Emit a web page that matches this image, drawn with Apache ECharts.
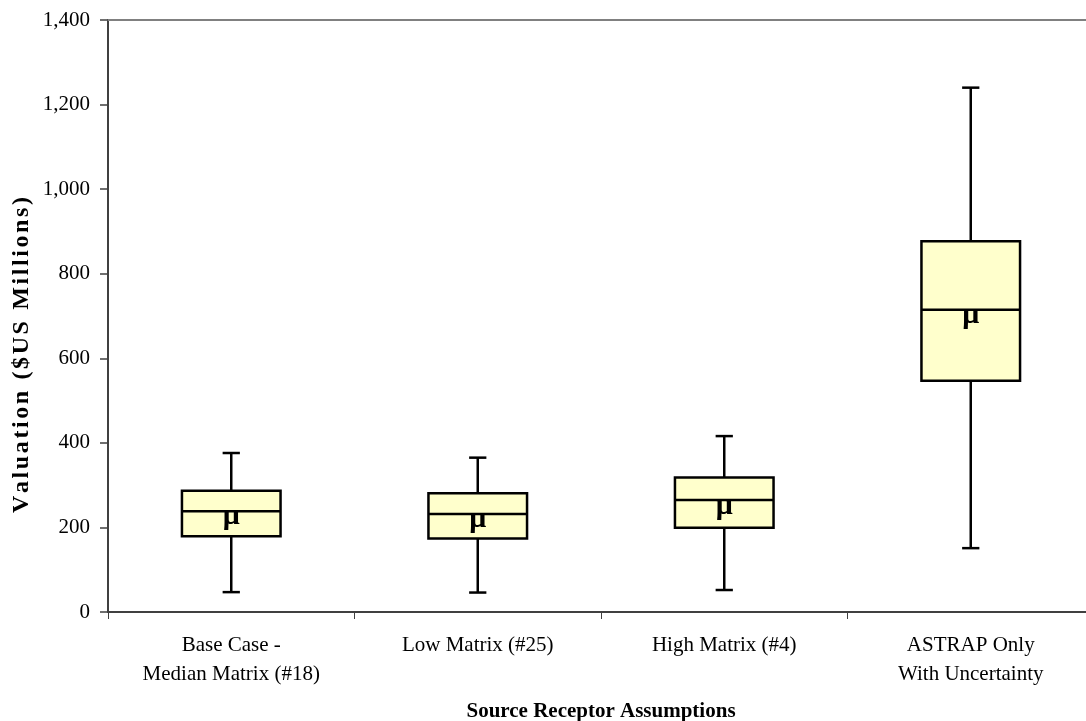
<!DOCTYPE html>
<html>
<head>
<meta charset="utf-8">
<title>Valuation by Source Receptor Assumption</title>
<script src="https://cdn.jsdelivr.net/npm/echarts@6/dist/echarts.min.js"></script>
<style>
  html, body { margin: 0; padding: 0; background: #ffffff; }
  #chart { width: 1086px; height: 721px; }
</style>
</head>
<body>
<div id="chart"></div>
<script>
// Box-and-whisker summary per source-receptor assumption ($US millions)
const categories = [
  'Base Case -\nMedian Matrix (#18)',
  'Low Matrix (#25)',
  'High Matrix (#4)',
  'ASTRAP Only\nWith Uncertainty'
];
const minValues    = [47, 46, 52, 151];
const q1Values     = [179, 174, 199, 547];
const medianValues = [238, 232, 265, 715];
const q3Values     = [287, 281, 318, 877];
const maxValues    = [376, 365, 416, 1240];
const meanValues   = [226, 219, 251, 701];
const yTicks = { min: 0, max: 1400, interval: 200 };

const FONT = '"Liberation Serif", "Times New Roman", serif';

const boxData = categories.map((c, i) => [
  i, minValues[i], q1Values[i], medianValues[i], q3Values[i], maxValues[i], meanValues[i]
]);

function renderBox(params, api) {
  const idx = api.value(0);
  const x = api.coord([idx, 0])[0];
  const band = api.size([1, 0])[0];
  const boxW = band * 0.4;
  const capW = band * 0.07;
  const yMin = api.coord([idx, api.value(1)])[1];
  const yQ1 = api.coord([idx, api.value(2)])[1];
  const yMed = api.coord([idx, api.value(3)])[1];
  const yQ3 = api.coord([idx, api.value(4)])[1];
  const yMax = api.coord([idx, api.value(5)])[1];
  const yMean = api.coord([idx, api.value(6)])[1];
  const line = { stroke: '#000000', lineWidth: 2.5 };
  return {
    type: 'group',
    children: [
      { type: 'line', shape: { x1: x, y1: yMax, x2: x, y2: yQ3 }, style: line },
      { type: 'line', shape: { x1: x - capW / 2, y1: yMax, x2: x + capW / 2, y2: yMax }, style: line },
      { type: 'line', shape: { x1: x, y1: yQ1, x2: x, y2: yMin }, style: line },
      { type: 'line', shape: { x1: x - capW / 2, y1: yMin, x2: x + capW / 2, y2: yMin }, style: line },
      {
        type: 'rect',
        shape: { x: x - boxW / 2, y: yQ3, width: boxW, height: yQ1 - yQ3 },
        style: { fill: '#FFFFCC', stroke: '#000000', lineWidth: 2.5 }
      },
      { type: 'line', shape: { x1: x - boxW / 2, y1: yMed, x2: x + boxW / 2, y2: yMed }, style: line },
      {
        type: 'text',
        style: {
          text: 'μ', x: x, y: yMean,
          align: 'center', verticalAlign: 'middle',
          font: 'bold 30px ' + FONT, fill: '#000000'
        }
      }
    ]
  };
}

// Vertical axis title, letters spread evenly along a fixed length
function spacedVerticalTitle(text, font, cx, cy, length) {
  const ctx = document.createElement('canvas').getContext('2d');
  ctx.font = font;
  const chars = Array.from(text);
  const widths = chars.map(ch => ctx.measureText(ch).width);
  const total = widths.reduce((a, b) => a + b, 0);
  const gap = Math.max(0, (length - total) / (chars.length - 1));
  let pos = -(total + gap * (chars.length - 1)) / 2;
  const children = chars.map((ch, i) => {
    const el = {
      type: 'text', x: pos, y: 0,
      style: { text: ch, font: font, fill: '#000', align: 'left', verticalAlign: 'middle' }
    };
    pos += widths[i] + gap;
    return el;
  });
  return { type: 'group', x: cx, y: cy, rotation: Math.PI / 2, children: children };
}

const chart = echarts.init(document.getElementById('chart'), null, { renderer: 'canvas' });
chart.setOption({
  backgroundColor: '#ffffff',
  animation: false,
  grid: {
    left: 108, top: 20, right: -8, bottom: 109,
    outerBoundsMode: 'none',
    containLabel: false,
    show: false
  },
  xAxis: [{
    type: 'category',
    data: categories,
    name: 'Source Receptor Assumptions',
    nameLocation: 'middle',
    nameGap: 89,
    nameTextStyle: { fontFamily: FONT, fontSize: 21, fontWeight: 'bold', color: '#000' },
    axisLine: { lineStyle: { color: '#404040', width: 2 } },
    axisTick: { show: true, length: 7, interval: 0, lineStyle: { color: '#404040', width: 1 } },
    axisLabel: {
      interval: 0, margin: 19, fontFamily: FONT, fontSize: 21, color: '#000', lineHeight: 29
    },
    splitLine: { show: false }
  }, {
    // top frame edge of the plot area
    type: 'category',
    data: categories,
    position: 'top',
    axisLine: { lineStyle: { color: '#808080', width: 2 } },
    axisTick: { show: false },
    axisLabel: { show: false },
    splitLine: { show: false }
  }],
  yAxis: {
    type: 'value',
    min: yTicks.min, max: yTicks.max, interval: yTicks.interval,
    axisLine: { show: true, lineStyle: { color: '#404040', width: 2 } },
    axisTick: { show: true, length: 8, lineStyle: { color: '#404040', width: 1.5 } },
    axisLabel: {
      margin: 18, fontFamily: FONT, fontSize: 21, color: '#000',
      formatter: v => v.toLocaleString('en-US')
    },
    splitLine: { show: false }
  },
  graphic: [spacedVerticalTitle('Valuation ($US Millions)', 'bold 24px ' + FONT, 22, 355, 316)],
  series: [{
    type: 'custom',
    renderItem: renderBox,
    encode: { x: 0, y: [1, 2, 3, 4, 5, 6] },
    data: boxData,
    z: 5
  }]
});
</script>
</body>
</html>
